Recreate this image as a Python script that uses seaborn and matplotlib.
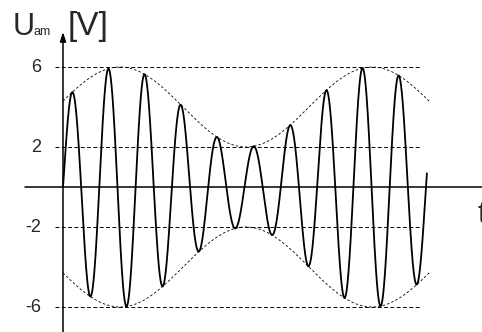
import numpy as np
import pandas as pd
import seaborn as sns
import matplotlib.pyplot as plt

# Values (AM signal)
carrier_amp = 4.0        # mean amplitude [V]
mod_amp = 2.0            # modulation depth [V] -> envelope from 2 to 6
carrier_period = 36.3    # time units per carrier cycle
mod_period = 252.0       # time units per envelope cycle
mod_peak_t = 57.0        # time of the first envelope maximum
t_end = 363.9
env_end = 367.0

grid_levels = [6, 2, -2, -6]
tick_labels = ["6", "2", "-2", "-6"]

t = np.linspace(0, t_end, 4000)
env_t = np.linspace(0, env_end, 1000)
envelope = carrier_amp + mod_amp * np.cos(2 * np.pi * (env_t - mod_peak_t) / mod_period)
signal = (carrier_amp + mod_amp * np.cos(2 * np.pi * (t - mod_peak_t) / mod_period)) \
    * np.sin(2 * np.pi * t / carrier_period)

sig_df = pd.DataFrame({"t": t, "u": signal})
env_df = pd.DataFrame({"t": np.concatenate([env_t, env_t]),
                       "u": np.concatenate([envelope, -envelope]),
                       "side": ["top"] * len(env_t) + ["bottom"] * len(env_t)})

sns.set_style("white")
plt.rcParams['font.family'] = ['Liberation Sans', 'DejaVu Sans']

fig = plt.figure(figsize=(4.82, 3.32), dpi=100)
ax = fig.add_axes([0, 0, 1, 1])
ax.set_xlim(-63, 419)
ax.set_ylim(-7.25, 9.35)
ax.axis('off')

# dashed reference levels
for lvl, lab in zip(grid_levels, tick_labels):
    ax.plot([-8, 357], [lvl, lvl], color='black', lw=0.7, ls=(0, (4, 2.5)))
    ax.text(-22, lvl, lab, ha='right', va='center', fontsize=13)

# envelope
for side, part in env_df.groupby("side"):
    ax.plot(part["t"], part["u"], color='black', lw=0.6, ls=(0, (3, 2.5)))

# the modulated signal
sns.lineplot(data=sig_df, x="t", y="u", color='black', lw=1.3, ax=ax, sort=False)

# axes
ax.plot([-38, 419], [0, 0], color='black', lw=1.1)
ax.annotate('', xy=(0, 7.75), xytext=(0, -7.3),
            arrowprops=dict(arrowstyle='-|>,head_length=0.55,head_width=0.18',
                            lw=1.1, color='black', shrinkA=0, shrinkB=0))

ax.text(-50, 7.6, "U", fontsize=22, va='baseline', ha='left')
ax.text(-30, 7.6, "am", fontsize=9, va='baseline', ha='left')
ax.text(5, 7.6, "[V]", fontsize=24, va='baseline', ha='left')
ax.text(414, -1.8, "t", fontsize=22, va='baseline', ha='left')

ax.set_xlabel("")
ax.set_ylabel("")
plt.savefig("out.png", dpi=100)
